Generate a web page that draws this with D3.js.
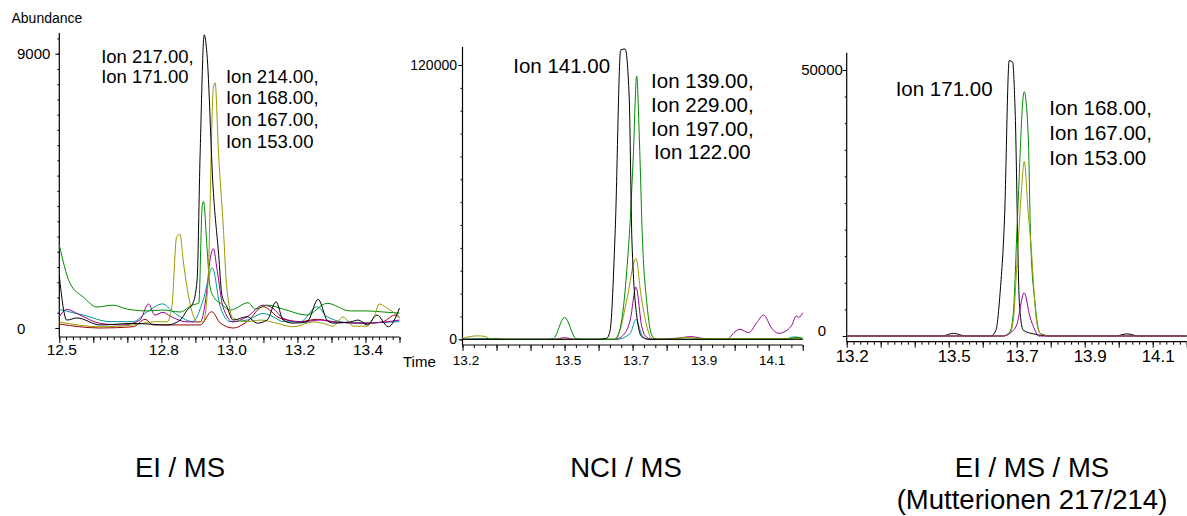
<!DOCTYPE html>
<html>
<head>
<meta charset="utf-8">
<script src="https://cdn.jsdelivr.net/npm/d3@7"></script>
<style>
  body { margin: 0; background: #fff; }
  svg { display: block; font-family: "Liberation Sans", Arial, sans-serif; }
</style>
</head>
<body>
<div id="chart"></div>
<script>
// ---- data: [time (min), abundance] ----

// EI / MS
var eiBlack = [[12.500,1700],[12.522,260],[12.552,330],[12.620,100],[12.717,150],[12.817,100],[12.855,260],[12.876,590],[12.893,820],[12.905,1570],[12.914,5740],[12.926,9620],[12.934,9000],[12.952,4620],[12.968,2460],[12.978,1080],[12.993,690],[13.011,260],[13.052,370],[13.082,160],[13.111,260],[13.137,860],[13.158,260],[13.187,160],[13.228,200],[13.261,940],[13.287,260],[13.305,160],[13.355,200],[13.379,260],[13.405,100],[13.434,425],[13.467,40],[13.500,650]];
var eiOlive = [[12.500,200],[12.620,40],[12.717,100],[12.787,210],[12.817,200],[12.831,700],[12.845,3000],[12.855,3070],[12.864,2230],[12.884,820],[12.905,200],[12.923,200],[12.937,1500],[12.953,7900],[12.958,8050],[12.968,5740],[12.982,3320],[12.992,1350],[13.011,320],[13.052,210],[13.093,260],[13.141,150],[13.187,40],[13.246,200],[13.276,150],[13.305,60],[13.334,360],[13.364,60],[13.405,60],[13.429,480],[13.440,790],[13.464,650],[13.500,370]];
var eiGreen = [[12.500,2720],[12.531,1480],[12.570,1020],[12.611,690],[12.658,750],[12.699,620],[12.758,560],[12.805,590],[12.855,525],[12.890,750],[12.910,820],[12.920,3980],[12.924,4150],[12.934,2670],[12.943,1350],[12.955,1000],[12.973,820],[13.003,590],[13.055,830],[13.076,620],[13.111,750],[13.158,620],[13.228,425],[13.287,810],[13.355,560],[13.405,560],[13.452,525],[13.500,490]];
var eiMagenta = [[12.500,370],[12.522,610],[12.561,425],[12.620,150],[12.687,100],[12.737,260],[12.762,790],[12.781,425],[12.805,515],[12.826,390],[12.876,200],[12.914,200],[12.934,1250],[12.943,2230],[12.953,2600],[12.964,1900],[12.981,700],[13.011,200],[13.052,370],[13.099,750],[13.128,650],[13.158,320],[13.208,200],[13.267,260],[13.305,200],[13.405,160],[13.500,260]];
var eiCyan = [[12.500,610],[12.570,425],[12.649,210],[12.717,210],[12.758,530],[12.804,790],[12.834,530],[12.893,210],[12.923,920],[12.950,1970],[12.973,700],[13.002,210],[13.052,260],[13.099,480],[13.128,370],[13.158,210],[13.208,200],[13.258,700],[13.287,370],[13.355,170],[13.405,170],[13.500,210]];
var eiRed = [[12.500,130],[12.620,0],[12.717,40],[12.752,285],[12.776,100],[12.834,100],[12.914,100],[12.948,535],[12.973,165],[13.011,0],[13.052,210],[13.099,700],[13.149,320],[13.208,210],[13.258,285],[13.305,210],[13.405,150],[13.452,210],[13.487,425],[13.500,330]];

// NCI / MS
var nciBlack = [[13.200,0],[13.600,0],[13.624,500],[13.634,4000],[13.649,48000],[13.665,126600],[13.678,127000],[13.690,106000],[13.698,43400],[13.714,8300],[13.727,1100],[13.750,0],[14.200,0]];
var nciGreen = [[13.200,0],[13.450,0],[13.467,300],[13.500,9600],[13.534,300],[13.560,0],[13.649,0],[13.668,8400],[13.683,30300],[13.693,52200],[13.702,80000],[13.712,115200],[13.720,87200],[13.729,43400],[13.742,15700],[13.756,1900],[13.770,0],[14.160,0],[14.180,900],[14.200,300]];
var nciOlive = [[13.200,300],[13.222,1200],[13.245,1500],[13.268,1200],[13.280,300],[13.350,0],[13.644,0],[13.663,4000],[13.683,17200],[13.710,35400],[13.724,20100],[13.742,5500],[13.756,500],[13.800,0],[13.860,800],[13.900,300],[14.200,300]];
var nciMagenta = [[13.200,0],[13.470,0],[13.500,700],[13.530,0],[13.650,0],[13.673,1900],[13.693,8400],[13.710,22800],[13.727,5500],[13.742,800],[13.760,0],[13.840,600],[13.870,1200],[13.900,500],[13.950,0],[13.977,0],[14.001,3300],[14.016,4400],[14.041,2900],[14.065,7300],[14.085,10600],[14.109,4800],[14.129,2600],[14.154,4000],[14.168,6200],[14.181,10200],[14.188,9600],[14.200,11600]];
var nciCyan = [[13.200,0],[13.300,400],[13.320,0],[13.654,0],[13.693,2600],[13.710,8750],[13.727,1900],[13.742,0],[14.150,0],[14.170,1000],[14.190,800],[14.200,200]];

// EI / MS / MS
var msmsBlack = [[13.200,0],[13.480,0],[13.514,500],[13.550,0],[13.624,0],[13.639,1100],[13.651,8000],[13.664,21800],[13.678,51760],[13.688,51500],[13.695,43100],[13.708,6100],[13.719,1100],[13.749,400],[13.800,0],[13.990,0],[14.024,400],[14.060,0],[14.200,0]];
var msmsGreen = [[13.200,0],[13.660,0],[13.680,800],[13.690,4300],[13.702,21800],[13.722,45900],[13.734,37500],[13.741,18000],[13.754,6100],[13.769,500],[13.800,0],[14.200,0]];
var msmsOlive = [[13.200,0],[13.660,0],[13.680,500],[13.690,3000],[13.702,15000],[13.714,27400],[13.722,32800],[13.734,23000],[13.741,18000],[13.758,3000],[13.769,500],[13.800,0],[14.200,0]];
var msmsMagenta = [[13.200,0],[13.661,0],[13.680,500],[13.700,2100],[13.722,8100],[13.739,3600],[13.754,1100],[13.764,0],[14.200,0]];

// axis labels
var eiTimeLabels = [12.5, 12.8, 13.0, 13.2, 13.4];
var nciTimeLabels = [13.2, 13.5, 13.7, 13.9, 14.1];
var msmsTimeLabels = [13.2, 13.5, 13.7, 13.9, 14.1];
var eiAbundLabels = [0, 9000];
var nciAbundLabels = [0, 120000];
var msmsAbundLabels = [0, 50000];

// ion annotations: anchor time, anchor abundance, text lines
var eiIons = [
  {t: 12.623, v: 8700, lines: ["Ion 217.00,", "Ion 171.00"]},
  {t: 12.990, v: 8050, lines: ["Ion 214.00,", "Ion 168.00,", "Ion 167.00,", "Ion 153.00"]}
];
var nciIons = [
  {t: 13.349, v: 116400, lines: ["Ion 141.00"]},
  {t: 13.905, v: 109800, lines: ["Ion 139.00,", "Ion 229.00,", "Ion 197.00,", "Ion 122.00"]}
];
var msmsIons = [
  {t: 13.344, v: 45200, lines: ["Ion 171.00"]},
  {t: 13.796, v: 41500, lines: ["Ion 168.00,", "Ion 167.00,", "Ion 153.00"]}
];

var titles = [["EI / MS"], ["NCI / MS"], ["EI / MS / MS", "(Mutterionen 217/214)"]];

var colors = {black: "#000000", olive: "#999900", green: "#008c00", magenta: "#990099", cyan: "#009999", red: "#990000"};

// ---- layout ----
var width = 1187;
var height = 516;

var panels = [
  {
    traces: [[eiRed, "red"], [eiCyan, "cyan"], [eiMagenta, "magenta"], [eiGreen, "green"], [eiOlive, "olive"], [eiBlack, "black"]],
    xDomain: [12.5, 13.5], xRange: [59.3, 399.5],
    yDomain: [0, 9000], yRange: [328, 53.7],
    axisTop: 33, axisY: 337, xMinor: 0.02, xMajorEvery: 5,
    yMinor: 500, yMax: 9500,
    timeLabels: eiTimeLabels, timeFont: 15.5, timeBase: 355, timeDx: 2,
    abundLabels: eiAbundLabels, abundX: 17, abundAnchor: "start", abundFont: 15, abundDy: [6, 5],
    ions: eiIons, ionFont: 18.5, ionGap: [20, 21.7], ionAnchor: ["start", "start"],
    title: titles[0], titleX: 180
  },
  {
    traces: [[nciCyan, "cyan"], [nciMagenta, "magenta"], [nciOlive, "olive"], [nciGreen, "green"], [nciBlack, "black"]],
    xDomain: [13.2, 14.2], xRange: [462.5, 802.7],
    yDomain: [0, 120000], yRange: [339.3, 65],
    axisTop: 47, axisY: 345, xMinor: 1 / 30, xMajorEvery: 3,
    yMinor: 10000, yMax: 120000,
    timeLabels: nciTimeLabels, timeFont: 13.5, timeBase: 365, timeDx: 3,
    abundLabels: nciAbundLabels, abundX: 457, abundAnchor: "end", abundFont: 14, abundDy: [5, 5],
    ions: nciIons, ionFont: 20.5, ionGap: [23.5, 23.7], ionAnchor: ["start", "middle"],
    title: titles[1], titleX: 626
  },
  {
    traces: [[msmsBlack, "black"], [msmsGreen, "green"], [msmsOlive, "olive"], [msmsMagenta, "magenta"]],
    xDomain: [13.2, 14.2], xRange: [846.7, 1186.7],
    yDomain: [0, 50000], yRange: [336, 70],
    axisTop: 52.7, axisY: 341.7, xMinor: 0.02, xMajorEvery: 5,
    yMinor: 5000, yMax: 50000,
    timeLabels: msmsTimeLabels, timeFont: 17, timeBase: 361.7, timeDx: 5,
    abundLabels: msmsAbundLabels, abundX: 822, abundAnchor: "middle", abundFont: 15, abundDy: [0, 5],
    ions: msmsIons, ionFont: 20.5, ionGap: [25, 25], ionAnchor: ["start", "start"],
    title: titles[2], titleX: 1032
  }
];

var svg = d3.select("#chart").append("svg")
  .attr("width", width)
  .attr("height", height);

svg.append("rect").attr("width", width).attr("height", height).attr("fill", "#fff");

// d3 axes put their own font on the group; drop it so the page font applies
function plainAxis(a) {
  a.attr("font-family", null).attr("font-size", null);
  a.select(".domain").remove();
}

panels.forEach(function (p) {
  var x = d3.scaleLinear().domain(p.xDomain).range(p.xRange);
  var y = d3.scaleLinear().domain(p.yDomain).range(p.yRange);
  var g = svg.append("g");

  // x ticks (minor + major)
  var n = Math.round((p.xDomain[1] - p.xDomain[0]) / p.xMinor);
  var minorVals = d3.range(n + 1).map(function (i) { return p.xDomain[0] + i * p.xMinor; });
  var majorVals = minorVals.filter(function (d, i) { return i % p.xMajorEvery === 0; });

  g.append("g")
    .attr("transform", "translate(0," + p.axisY + ")")
    .call(d3.axisBottom(x).tickValues(minorVals).tickSize(3).tickSizeOuter(0).tickFormat(""))
    .call(plainAxis);

  g.append("g")
    .attr("transform", "translate(0," + p.axisY + ")")
    .call(d3.axisBottom(x).tickValues(majorVals).tickSize(6).tickSizeOuter(0).tickFormat(""))
    .call(plainAxis);

  var lab = g.append("g")
    .attr("transform", "translate(0," + p.axisY + ")")
    .call(d3.axisBottom(x).tickValues(p.timeLabels).tickSize(0).tickFormat(d3.format(".1f")))
    .call(plainAxis);
  lab.selectAll("text")
    .attr("y", p.timeBase - p.axisY)
    .attr("dy", null)
    .attr("dx", p.timeDx)
    .attr("font-size", p.timeFont)
    .attr("fill", "#000");

  // y ticks
  var yVals = d3.range(0, p.yMax + 1, p.yMinor);
  g.append("g")
    .attr("transform", "translate(" + p.xRange[0] + ",0)")
    .call(d3.axisLeft(y).tickValues(yVals).tickSize(2).tickSizeOuter(0).tickFormat(""))
    .call(plainAxis);
  g.append("g")
    .attr("transform", "translate(" + p.xRange[0] + ",0)")
    .call(d3.axisLeft(y).tickValues(p.yDomain).tickSize(4).tickSizeOuter(0).tickFormat(""))
    .call(plainAxis);

  // axis lines
  g.append("line")
    .attr("x1", p.xRange[0]).attr("x2", p.xRange[0])
    .attr("y1", p.axisTop).attr("y2", p.axisY)
    .attr("stroke", "#000").attr("stroke-width", 1.2);
  g.append("line")
    .attr("x1", p.xRange[0]).attr("x2", p.xRange[1])
    .attr("y1", p.axisY).attr("y2", p.axisY)
    .attr("stroke", "#000").attr("stroke-width", 1.2);

  // y labels
  p.abundLabels.forEach(function (v, i) {
    g.append("text")
      .attr("x", p.abundX)
      .attr("y", y(v) + p.abundDy[i])
      .attr("text-anchor", p.abundAnchor)
      .attr("font-size", p.abundFont)
      .text(v);
  });

  // traces
  var line = d3.line()
    .x(function (d) { return x(d[0]); })
    .y(function (d) { return y(d[1]); })
    .curve(d3.curveMonotoneX);

  g.selectAll(".trace")
    .data(p.traces)
    .enter()
    .append("path")
    .attr("class", "trace")
    .attr("d", function (d) { return line(d[0]); })
    .attr("fill", "none")
    .attr("stroke", function (d) { return colors[d[1]]; })
    .attr("stroke-width", 1);

  // ion annotations
  p.ions.forEach(function (ion, k) {
    ion.lines.forEach(function (s, i) {
      g.append("text")
        .attr("x", x(ion.t))
        .attr("y", y(ion.v) + i * p.ionGap[k])
        .attr("text-anchor", p.ionAnchor[k])
        .attr("font-size", p.ionFont)
        .text(s);
    });
  });

  // panel title
  p.title.forEach(function (s, i) {
    svg.append("text")
      .attr("x", p.titleX)
      .attr("y", 476.7 + i * 32)
      .attr("text-anchor", "middle")
      .attr("font-size", 27.5)
      .text(s);
  });
});

svg.append("text")
  .attr("x", 11.5).attr("y", 23)
  .attr("font-size", 14)
  .text("Abundance");

svg.append("text")
  .attr("x", 403).attr("y", 366.5)
  .attr("font-size", 15)
  .text("Time");
</script>
</body>
</html>
